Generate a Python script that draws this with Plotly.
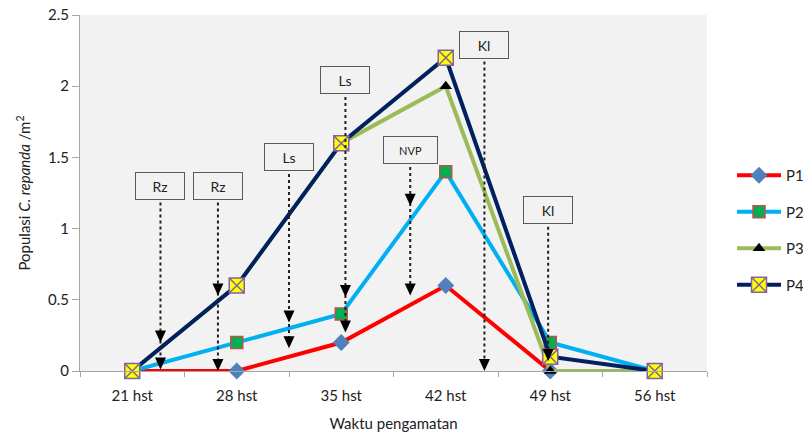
import plotly.graph_objects as go

categories = ["21 hst", "28 hst", "35 hst", "42 hst", "49 hst", "56 hst"]
p1 = [0, 0, 0.2, 0.6, 0, 0]
p2 = [0, 0.2, 0.4, 1.4, 0.2, 0]
p3 = [0, 0.6, 1.6, 2.0, 0, 0]
p4 = [0, 0.6, 1.6, 2.2, 0.1, 0]

# annotation labels: (text, x position in category units, box top value, arrow tip values)
notes = [
    ("Rz", 0.27, 1.40, [0.20, 0.01]),
    ("Rz", 0.82, 1.40, [0.53, 0.00]),
    ("Ls", 1.50, 1.60, [0.34, 0.16]),
    ("Ls", 2.04, 2.14, [0.52, 0.27]),
    ("NVP", 2.66, 1.65, [1.16, 0.53]),
    ("Kl", 3.37, 2.39, [0.00]),
    ("Kl", 3.98, 1.23, [0.07]),
]

FONT = "Lato, 'Open Sans', sans-serif"
fig = go.Figure()

styles = [
    ("P1", p1, "#FF0000", dict(symbol="diamond", size=13, color="#4F81BD", line=dict(width=0))),
    ("P2", p2, "#00B0F0", dict(symbol="square", size=12, color="#00B050", line=dict(color="#C0504D", width=1.5))),
    ("P3", p3, "#9BBB59", dict(symbol="triangle-up", size=11, color="#000000", line=dict(width=0))),
    ("P4", p4, "#002060", dict(symbol="square-x", size=15, color="#FFFF00", line=dict(color="#8064A2", width=1.5))),
]
for name, vals, lc, mk in styles:
    fig.add_trace(go.Scatter(
        x=categories, y=vals, name=name, mode="lines+markers",
        line=dict(color=lc, width=4), marker=mk, cliponaxis=False,
        legendgroup=name,
    ))

shapes = []
annotations = []
px_per_unit = 356 / 2.5
box_h_units = 28 / px_per_unit
for text, xc, ytop, tips in notes:
    annotations.append(dict(
        x=xc, y=ytop, xref="x", yref="y", yanchor="top", text=text, showarrow=False,
        font=dict(family=FONT, size=14 if text != "NVP" else 11, color="#222222"),
        width=(53 if text == "NVP" else 48), height=26, borderpad=0, borderwidth=1,
        bordercolor="#595959", bgcolor="rgba(0,0,0,0)", align="center", valign="middle",
    ))
    ybot = ytop - box_h_units
    shapes.append(dict(type="line", xref="x", yref="y", x0=xc, x1=xc, y0=ybot - 0.02, y1=min(tips) + 0.04,
                       line=dict(color="#222222", width=2, dash="dot"), layer="above"))
    for t in tips:
        shapes.append(dict(type="path", xref="x", yref="y", xsizemode="pixel", ysizemode="pixel",
                           xanchor=xc, yanchor=t, path="M-5.5,12 L5.5,12 L0,0 Z",
                           fillcolor="#000000", line=dict(width=0), layer="above"))

fig.update_layout(
    width=803, height=439,
    margin=dict(l=80, r=96, t=15, b=68),
    plot_bgcolor="#F2F2F2", paper_bgcolor="#FFFFFF",
    font=dict(family=FONT, size=14, color="#404040"),
    shapes=shapes, annotations=annotations,
    legend=dict(xref="container", yref="container", x=0.9116, y=0.476, xanchor="left", yanchor="middle",
                tracegroupgap=14, itemwidth=44,
                font=dict(size=15, color="#222222"), bgcolor="rgba(0,0,0,0)"),
    xaxis=dict(
        type="category", range=[-0.5, 5.5], tickson="boundaries", ticks="outside", ticklen=5,
        tickcolor="#A6A6A6", showline=True, linecolor="#A6A6A6", linewidth=1, showgrid=False,
        tickfont=dict(size=15, color="#222222"), automargin=False, ticklabelstandoff=11,
        title=dict(text="Waktu pengamatan", font=dict(size=15, color="#222222"), standoff=15),
    ),
    yaxis=dict(
        range=[0, 2.5], tickvals=[0, 0.5, 1, 1.5, 2, 2.5], ticktext=["0", "0.5", "1", "1.5", "2", "2.5"],
        ticks="outside", ticklen=7, tickcolor="#A6A6A6", showline=True, linecolor="#A6A6A6",
        linewidth=1, showgrid=False, zeroline=False, automargin=False,
        tickfont=dict(size=15, color="#222222"),
        title=dict(text="Populasi <i>C. repanda</i> /m<sup>2</sup>", font=dict(size=15, color="#222222"),
                   standoff=13),
    ),
)

fig.write_html("out.html", config={"displayModeBar": False},
               post_script="document.body.style.margin='0';")
